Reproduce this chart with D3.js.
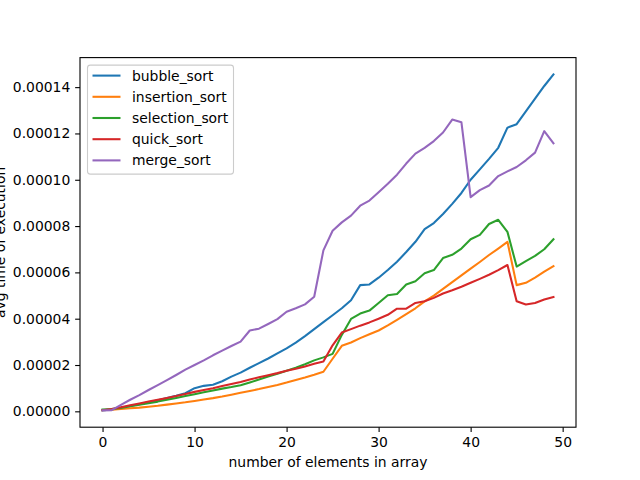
<!DOCTYPE html>
<html>
<head>
<meta charset="utf-8">
<script src="https://cdn.jsdelivr.net/npm/d3@7"></script>
<style>
	body { margin: 0; background: #fff; }
	svg { font-family: "DejaVu Sans", sans-serif; }
</style>
</head>
<body>
<svg></svg>
<script>
// times are in units of 1e-5 seconds
const sizes = d3.range(50);
const bubble = [0.04,0.08,0.15,0.23,0.31,0.39,0.48,0.57,0.67,0.78,
	1.0,1.1,1.15,1.3,1.5,1.67,1.88,2.08,2.28,2.5,
	2.72,2.97,3.25,3.55,3.85,4.15,4.45,4.8,5.45,5.48,
	5.77,6.1,6.46,6.88,7.32,7.87,8.13,8.52,8.96,9.43,
	10.0,10.45,10.9,11.38,12.25,12.4,12.95,13.5,14.05,14.55];
const insertion = [0.05,0.07,0.1,0.13,0.16,0.2,0.24,0.29,0.34,0.39,
	0.45,0.51,0.57,0.64,0.72,0.8,0.88,0.96,1.05,1.14,
	1.24,1.35,1.46,1.58,1.71,2.27,2.83,2.97,3.16,3.33,
	3.49,3.71,3.95,4.2,4.45,4.75,5.0,5.29,5.58,5.87,
	6.16,6.45,6.75,7.03,7.32,5.45,5.55,5.77,6.03,6.27];
const selection = [0.08,0.1,0.15,0.22,0.28,0.35,0.42,0.5,0.58,0.66,
	0.74,0.82,0.9,0.98,1.05,1.13,1.25,1.37,1.5,1.62,
	1.75,1.88,2.03,2.2,2.33,2.48,3.3,3.99,4.22,4.35,
	4.68,5.01,5.07,5.48,5.62,5.96,6.1,6.62,6.76,7.03,
	7.43,7.62,8.09,8.27,7.75,6.25,6.49,6.71,7.0,7.43];
const quick = [0.05,0.1,0.18,0.26,0.34,0.42,0.5,0.58,0.66,0.75,
	0.84,0.92,1.0,1.09,1.18,1.27,1.37,1.47,1.56,1.65,
	1.75,1.84,1.94,2.05,2.15,2.85,3.4,3.55,3.7,3.84,
	4.0,4.17,4.43,4.43,4.68,4.75,4.9,5.09,5.23,5.38,
	5.55,5.72,5.9,6.1,6.32,4.75,4.61,4.68,4.83,4.94];
const merge = [0.04,0.05,0.28,0.5,0.7,0.92,1.13,1.35,1.57,1.8,
	2.0,2.2,2.42,2.62,2.82,3.01,3.49,3.57,3.77,3.98,
	4.3,4.45,4.62,4.95,6.95,7.8,8.16,8.45,8.88,9.1,
	9.46,9.83,10.22,10.7,11.13,11.38,11.67,12.04,12.6,12.48,
	9.25,9.55,9.75,10.16,10.36,10.55,10.84,11.17,12.1,11.57];

const seriesNames = ['bubble_sort', 'insertion_sort', 'selection_sort', 'quick_sort', 'merge_sort'];
const seriesValues = [bubble, insertion, selection, quick, merge];
const colors = ['#1f77b4', '#ff7f0e', '#2ca02c', '#d62728', '#9467bd'];
const xTicks = [0, 10, 20, 30, 40, 50];
const yTicks = [0, 2, 4, 6, 8, 10, 12, 14];

const width = 640;
const height = 480;
const plotLeft = 80, plotRight = 576, plotTop = 57.6, plotBottom = 427.2;

const svg = d3.select('svg')
	.attr('width', width)
	.attr('height', height);

// matplotlib style 5% margins
const xMin = d3.min(sizes), xMax = d3.max(sizes);
const xPad = (xMax - xMin) * 0.05;
const allValues = seriesValues.flat();
const yMin = d3.min(allValues), yMax = d3.max(allValues);
const yPad = (yMax - yMin) * 0.05;

const x = d3.scaleLinear()
	.domain([xMin - xPad, xMax + xPad])
	.range([plotLeft, plotRight]);
const y = d3.scaleLinear()
	.domain([yMin - yPad, yMax + yPad])
	.range([plotBottom, plotTop]);

const line = d3.line()
	.x((d, i) => x(sizes[i]))
	.y(d => y(d));

svg.selectAll('path.series')
	.data(seriesValues)
	.enter()
	.append('path')
	.attr('class', 'series')
	.attr('fill', 'none')
	.attr('stroke', (d, i) => colors[i])
	.attr('stroke-width', 2.08)
	.attr('stroke-linejoin', 'round')
	.attr('stroke-linecap', 'square')
	.attr('d', line);

const xAxis = svg.append('g')
	.attr('transform', `translate(0,${plotBottom})`)
	.call(d3.axisBottom(x).tickValues(xTicks).tickSize(4.86).tickPadding(4.86));
const yAxis = svg.append('g')
	.attr('transform', `translate(${plotLeft},0)`)
	.call(d3.axisLeft(y).tickValues(yTicks).tickSize(4.86).tickPadding(4.86)
		.tickFormat(t => d3.format('.5f')(t * 1e-5)));

[xAxis, yAxis].forEach(g => {
	g.select('.domain').remove();
	g.selectAll('.tick line').attr('stroke', '#000').attr('stroke-width', 1.1);
	g.selectAll('.tick text')
		.attr('fill', '#000')
		.style('font-size', '13.9px')
		.style('font-family', '"DejaVu Sans", sans-serif');
});

svg.append('rect')
	.attr('x', plotLeft)
	.attr('y', plotTop)
	.attr('width', plotRight - plotLeft)
	.attr('height', plotBottom - plotTop)
	.attr('fill', 'none')
	.attr('stroke', '#000')
	.attr('stroke-width', 1.1);

svg.append('text')
	.attr('x', (plotLeft + plotRight) / 2)
	.attr('y', 467)
	.attr('text-anchor', 'middle')
	.style('font-size', '13.9px')
	.text('number of elements in array');

svg.append('text')
	.attr('transform', `translate(5,${(plotTop + plotBottom) / 2}) rotate(-90)`)
	.attr('text-anchor', 'middle')
	.style('font-size', '13.9px')
	.text('avg time of execution');

// legend, upper left
const legend = svg.append('g')
	.attr('transform', `translate(${plotLeft + 7},${plotTop + 7})`);

legend.append('rect')
	.attr('x', 0.5)
	.attr('y', 0.5)
	.attr('width', 146)
	.attr('height', 109)
	.attr('rx', 2.8)
	.attr('fill', '#fff')
	.attr('fill-opacity', 0.8)
	.attr('stroke', '#cccccc')
	.attr('stroke-width', 1.1);

const rows = legend.selectAll('g.row')
	.data(seriesNames)
	.enter()
	.append('g')
	.attr('class', 'row')
	.attr('transform', (d, i) => `translate(0,${11 + i * 21.2})`);

rows.append('line')
	.attr('x1', 5.5)
	.attr('x2', 33.5)
	.attr('stroke', (d, i) => colors[i])
	.attr('stroke-width', 2.08);

rows.append('text')
	.attr('x', 45)
	.attr('y', 5)
	.style('font-size', '13.9px')
	.text(d => d);
</script>
</body>
</html>
